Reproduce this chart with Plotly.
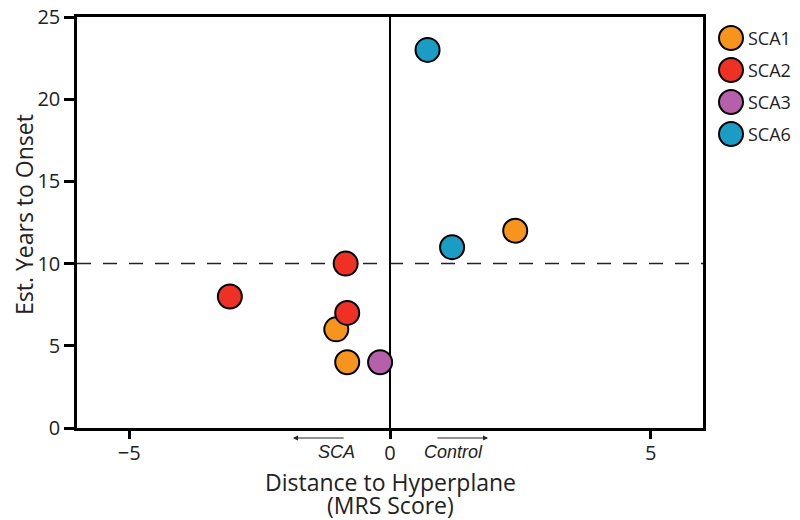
import plotly.graph_objects as go

groups = ["SCA1", "SCA2", "SCA3", "SCA6"]
colors = ["#F7941D", "#EE3124", "#B65FAA", "#1A9CC4"]
x_vals = {
    "SCA1": [2.4, -1.03, -0.82],
    "SCA2": [-3.07, -0.85, -0.82],
    "SCA3": [-0.19],
    "SCA6": [0.72, 1.19],
}
y_vals = {
    "SCA1": [12, 6, 4],
    "SCA2": [8, 10, 7],
    "SCA3": [4],
    "SCA6": [23, 11],
}
threshold = 10
x_ticks = [-5, 0, 5]
y_ticks = [0, 5, 10, 15, 20, 25]

FONT = "Open Sans"
OFF = 8                      # page body margin of the browser
W, H = 800 - OFF, 520 - OFF
# plot box in screen pixels: x 77..703, y TOP..428
TOP = 17
L, T = 77 - OFF, TOP - OFF
B = H - (428 - OFF)
R = 0
plot_w = W - L - R
plot_h = H - T - B
main_dom = (703 - 77) / plot_w


def py(screen_y):
    return (428 - screen_y) / plot_h


def px(screen_x):
    return (screen_x - 77) / plot_w


fig = go.Figure()

# dashed threshold line and zero line
fig.add_trace(go.Scatter(x=[-6, 6], y=[threshold, threshold], mode="lines",
                         line=dict(color="#222", width=1.5, dash="14px,12px"),
                         showlegend=False, hoverinfo="skip"))
fig.add_trace(go.Scatter(x=[0, 0], y=[0, 25], mode="lines",
                         line=dict(color="black", width=2),
                         showlegend=False, hoverinfo="skip"))

for g, c in zip(groups, colors):
    fig.add_trace(go.Scatter(
        x=x_vals[g], y=y_vals[g], mode="markers", name=g, showlegend=False,
        marker=dict(size=24, color=c, line=dict(color="black", width=2)),
    ))

# legend drawn as its own small scatter (large circles like the reference)
leg_x = [731] * len(groups)
leg_y = [38 + 32 * i for i in range(len(groups))]
fig.add_trace(go.Scatter(
    x=leg_x, y=leg_y, xaxis="x2", yaxis="y2", mode="markers",
    marker=dict(size=24, color=colors, line=dict(color="black", width=2)),
    showlegend=False, hoverinfo="skip", cliponaxis=False,
))
for g, yy in zip(groups, leg_y):
    fig.add_annotation(x=746, y=yy, xref="x2", yref="y2", text=g, showarrow=False,
                       xanchor="left", yanchor="middle",
                       font=dict(size=18, color="#222", family=FONT))

axis_common = dict(showgrid=False, zeroline=False, showline=True, linecolor="black",
                   linewidth=2.5, mirror=True, ticks="outside", tickwidth=2.5,
                   tickcolor="black", tickfont=dict(size=20, color="#222"),
                   ticklabeloverflow="allow")

fig.update_layout(
    width=W, height=H,
    margin=dict(l=L, r=R, t=T, b=B, autoexpand=False),
    plot_bgcolor="white", paper_bgcolor="white",
    font=dict(family=FONT, size=18, color="#222"),
    showlegend=False,
    xaxis=dict(range=[-6, 6], domain=[0, main_dom], tickvals=x_ticks,
               ticklen=8, ticklabelstandoff=-3, **axis_common),
    yaxis=dict(range=[0, 25], tickvals=y_ticks, ticklen=10, **axis_common),
    xaxis2=dict(domain=[main_dom, 1], range=[703, 800], visible=False, anchor="y2"),
    yaxis2=dict(domain=[0, 1], range=[428, TOP], visible=False, anchor="x2"),
)

# axis titles
fig.add_annotation(x=px(24), y=py(215), xref="paper", yref="paper",
                   text="Est. Years to Onset", showarrow=False, textangle=-90,
                   xanchor="center", yanchor="middle", font=dict(size=23))
fig.add_annotation(x=0.5 * main_dom, y=py(482), xref="paper", yref="paper",
                   text="Distance to Hyperplane", showarrow=False, yanchor="middle",
                   font=dict(size=23))
fig.add_annotation(x=0.5 * main_dom, y=py(505), xref="paper", yref="paper",
                   text="(MRS Score)", showarrow=False, yanchor="middle",
                   font=dict(size=23))

# direction arrows
fig.add_annotation(x=-1.86, y=py(438), xref="x", yref="paper", ax=-0.86, ay=0,
                   axref="x", ayref="pixel", text="", showarrow=True,
                   arrowhead=2, arrowsize=1, arrowwidth=1, arrowcolor="#222")
fig.add_annotation(x=1.88, y=py(438), xref="x", yref="paper", ax=0.88, ay=0,
                   axref="x", ayref="pixel", text="", showarrow=True,
                   arrowhead=2, arrowsize=1, arrowwidth=1, arrowcolor="#222")
fig.add_annotation(x=-1.02, y=py(452), xref="x", yref="paper", text="<i>SCA</i>",
                   showarrow=False, yanchor="middle",
                   font=dict(size=18, family="Liberation Sans"))
fig.add_annotation(x=1.21, y=py(452), xref="x", yref="paper", text="<i>Control</i>",
                   showarrow=False, yanchor="middle",
                   font=dict(size=18, family="Liberation Sans"))

fig.write_html("out.html")
